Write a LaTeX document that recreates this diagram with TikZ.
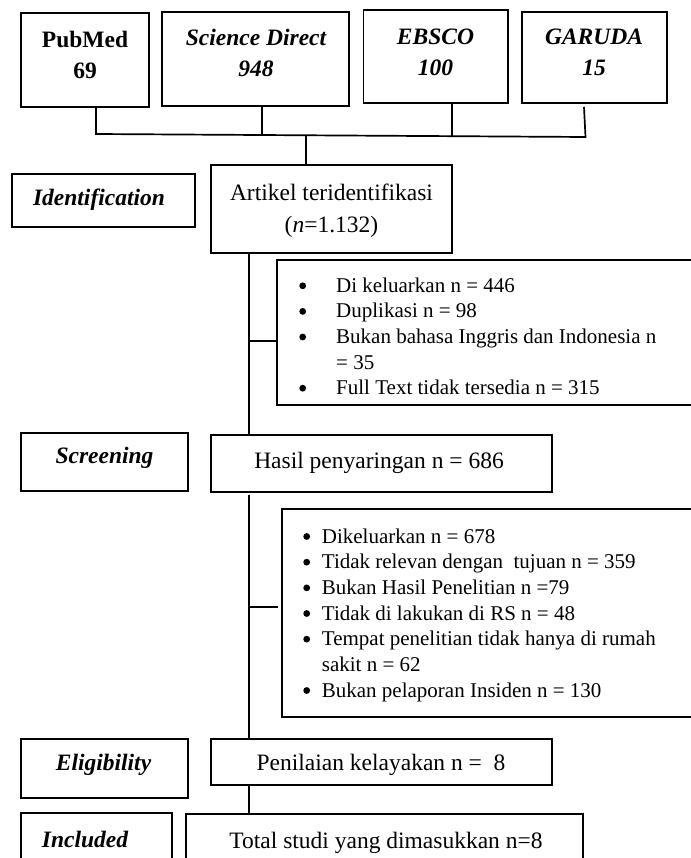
\documentclass[tikz,border=0pt]{standalone}
\usepackage{fontspec}
\setmainfont{Liberation Serif}
\usetikzlibrary{calc}
\begin{document}
\begin{tikzpicture}[x=1pt,y=-1pt,
  box/.style={draw, line width=1.8pt, inner sep=0pt, outer sep=0pt},
  conn/.style={line width=1.7pt, line join=miter},
  bul/.style={circle, fill, inner sep=0pt, minimum size=6.8pt},
  mainf/.style={font=\fontsize{23.5}{31}\selectfont, inner sep=0pt, align=center},
  artf/.style={font=\fontsize{23.5}{32}\selectfont, inner sep=0pt, align=center},
  topb/.style={font=\fontsize{23.5}{31}\selectfont\bfseries, inner sep=0pt, align=center},
  topbi/.style={font=\fontsize{23.5}{31}\selectfont\bfseries\itshape, inner sep=0pt, align=center},
  lab/.style={font=\fontsize{23.5}{31}\selectfont\bfseries\itshape, inner sep=0pt},
  exf/.style={font=\fontsize{21}{25.6}\selectfont, inner sep=0pt},
]
\useasboundingbox (0,0) rectangle (690,858);

% source boxes
\node[box, minimum width=128pt, minimum height=94pt] (pub) at (85,60) {};
\node[topb] (pubt) at (85,55) {PubMed\\69};
\node[box, minimum width=187pt, minimum height=94pt] (sd) at (255.5,59) {};
\node[topbi] (sdt) at (256,52.5) {Science Direct\\948};
\node[box, minimum width=144.5pt, minimum height=93pt] (eb) at (435.75,56.5) {};
\node[topbi] (ebt) at (435.5,52) {EBSCO\\100};
\node[box, minimum width=145pt, minimum height=91pt] (gar) at (594.5,57.5) {};
\node[topbi] (gart) at (594,52.5) {GARUDA\\15};

% stage labels and main boxes
\node[box, minimum width=183pt, minimum height=53pt] (idb) at (103.5,200.5) {};
\node[lab] (idt) at (99,200) {Identification};
\node[box, minimum width=241pt, minimum height=88pt] (art) at (331.5,209) {};
\node[artf] (artt) at (331.5,211) {Artikel teridentifikasi\\(\textit{n}=1.132)};

\node[box, minimum width=423pt, minimum height=145pt] (ex1) at (488.5,332.5) {};

\node[box, minimum width=167pt, minimum height=58pt] (scr) at (104.2,462) {};
\node[lab] (scrt) at (104.5,458) {Screening};
\node[box, minimum width=341pt, minimum height=57pt] (has) at (381.5,463.5) {};
\node[mainf] (hast) at (379,463) {Hasil penyaringan n = 686};

\node[box, minimum width=418pt, minimum height=208pt] (ex2) at (491,613) {};

\node[box, minimum width=167.3pt, minimum height=59pt] (eli) at (104.35,768.5) {};
\node[lab] (elit) at (103.5,765) {Eligibility};
\node[box, minimum width=341pt, minimum height=46pt] (pen) at (381.5,762) {};
\node[mainf] (pent) at (381,765) {Penilaian kelayakan n =~ 8};

\node[box, minimum width=151pt, minimum height=52pt] (inc) at (96.15,839) {};
\node[lab] (inct) at (85,839) {Included};
\node[box, minimum width=397pt, minimum height=58pt] (tot) at (384.5,843) {};
\node[mainf] (tott) at (386,843) {Total studi yang dimasukkan n=8};

% exclusion list 1
\node[bul] (e1ab) at (302.7,285.8) {};
\node[exf, anchor=base west] (e1a) at (336,292.3) {Di keluarkan n = 446};
\node[bul] (e1bb) at (302.7,311.4) {};
\node[exf, anchor=base west] (e1b) at (336,317.9) {Duplikasi n = 98};
\node[bul] (e1cb) at (302.7,337.0) {};
\node[exf, anchor=base west] (e1c) at (336,343.5) {Bukan bahasa Inggris dan Indonesia n};
\node[exf, anchor=base west] (e1d) at (336,369.1) {= 35};
\node[bul] (e1eb) at (302.7,388.2) {};
\node[exf, anchor=base west] (e1e) at (336,394.7) {Full Text tidak tersedia n = 315};

% exclusion list 2
\node[bul] (e2ab) at (306.7,536.5) {};
\node[exf, anchor=base west] (e2a) at (321.7,543) {Dikeluarkan n = 678};
\node[bul] (e2bb) at (306.7,562.17) {};
\node[exf, anchor=base west] (e2b) at (321.7,568.67) {Tidak relevan dengan~ tujuan n = 359};
\node[bul] (e2cb) at (306.7,587.84) {};
\node[exf, anchor=base west] (e2c) at (321.7,594.34) {Bukan Hasil Penelitian n =79};
\node[bul] (e2db) at (306.7,613.5) {};
\node[exf, anchor=base west] (e2d) at (321.7,620) {Tidak di lakukan di RS n = 48};
\node[bul] (e2eb) at (306.7,639.17) {};
\node[exf, anchor=base west] (e2e) at (321.7,645.67) {Tempat penelitian tidak hanya di rumah};
\node[exf, anchor=base west] (e2f) at (321.7,671.34) {sakit n = 62};
\node[bul] (e2gb) at (306.7,690.5) {};
\node[exf, anchor=base west] (e2g) at (321.7,697) {Bukan pelaporan Insiden n = 130};

% connectors
\coordinate (b1) at (96,134);
\coordinate (b2) at (262,135);
\coordinate (b3) at (452,136.2);
\coordinate (b4) at (585.5,137);
\coordinate (bm) at (306,135.3);
\draw[conn] (pub.south -| b1) -- (b1) -- (b4) -- ($(gar.south -| b4)+(-1.5,4)$);
\draw[conn] (sd.south -| b2) -- (b2);
\draw[conn] (eb.south -| b3) -- (b3);
\draw[conn] (bm) -- (bm |- art.north);

\coordinate (v) at (249.3,0);
\draw[conn] (art.south -| v) -- (has.north -| v);
\coordinate (s1) at (249.3,340.7);
\draw[conn] (s1) -- (s1 -| ex1.west);

\draw[conn] ($(has.south -| v)+(0,3)$) -- (pen.north -| v);
\coordinate (s2) at (249.3,606.7);
\draw[conn, shorten >=4pt] (s2) -- (s2 -| ex2.west);

\draw[conn] (pen.south -| v) -- (tot.north -| v);
\end{tikzpicture}
\end{document}
